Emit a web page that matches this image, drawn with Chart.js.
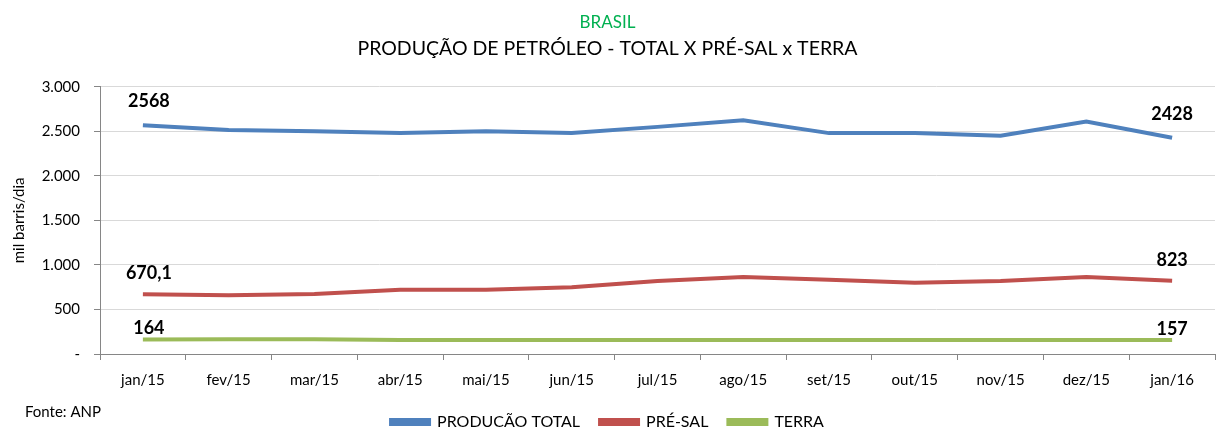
<!DOCTYPE html>
<html>
<head>
<meta charset="utf-8">
<script src="https://cdn.jsdelivr.net/npm/chart.js@4/dist/chart.umd.min.js"></script>
<style>
  html, body { margin: 0; padding: 0; background: #fff; }
</style>
</head>
<body>
<canvas id="grafico" width="1217" height="427"></canvas>
<script>
const meses = ['jan/15', 'fev/15', 'mar/15', 'abr/15', 'mai/15', 'jun/15', 'jul/15',
  'ago/15', 'set/15', 'out/15', 'nov/15', 'dez/15', 'jan/16'];
const producaoTotal = [2568, 2515, 2500, 2480, 2500, 2480, 2550, 2625, 2480, 2480, 2450, 2610, 2428];
const preSal = [670.1, 660, 675, 720, 720, 750, 820, 865, 835, 800, 820, 865, 823];
const terra = [164, 166, 165, 157, 157, 156, 157, 157, 157, 156, 156, 156, 157];
const rotulosPontas = [['2568', '2428'], ['670,1', '823'], ['164', '157']];

const fonte = 'Lato, "Open Sans", sans-serif';

// rotulos do primeiro e ultimo ponto + "Fonte: ANP"
const rotulosPlugin = {
  id: 'rotulos',
  afterDatasetsDraw(chart) {
    const ctx = chart.ctx;
    const gaps = [15, 12, 2];
    ctx.save();
    ctx.font = 'bold 18px ' + fonte;
    ctx.fillStyle = '#000';
    ctx.textAlign = 'center';
    ctx.textBaseline = 'bottom';
    chart.data.datasets.forEach((ds, i) => {
      const pts = chart.getDatasetMeta(i).data;
      const first = pts[0], last = pts[pts.length - 1];
      ctx.fillText(rotulosPontas[i][0], first.x + 6, first.y - gaps[i]);
      ctx.fillText(rotulosPontas[i][1], last.x, last.y - gaps[i]);
    });
    ctx.font = '15px ' + fonte;
    ctx.textAlign = 'left';
    ctx.textBaseline = 'middle';
    ctx.fillText('Fonte: ANP', 25, 412);
    ctx.restore();
  }
};

new Chart(document.getElementById('grafico'), {
  type: 'line',
  data: {
    labels: meses,
    datasets: [
      { label: 'PRODUCÃO TOTAL', data: producaoTotal, borderColor: '#4f81bd', backgroundColor: '#4f81bd' },
      { label: 'PRÉ-SAL', data: preSal, borderColor: '#c0504d', backgroundColor: '#c0504d' },
      { label: 'TERRA', data: terra, borderColor: '#9bbb59', backgroundColor: '#9bbb59' }
    ]
  },
  options: {
    responsive: false,
    animation: false,
    layout: { padding: { left: 0, right: 2, top: 0, bottom: -13 } },
    elements: {
      line: { borderWidth: 4, tension: 0 },
      point: { radius: 0 }
    },
    plugins: {
      title: {
        display: true,
        text: 'BRASIL',
        color: '#00b050',
        font: { family: fonte, size: 17, weight: 'normal' },
        padding: { top: 12, bottom: 5 }
      },
      subtitle: {
        display: true,
        text: 'PRODUÇÃO DE PETRÓLEO - TOTAL X PRÉ-SAL x TERRA',
        color: '#000',
        font: { family: fonte, size: 19.5 },
        padding: { top: 0, bottom: 26 }
      },
      legend: {
        position: 'bottom',
        labels: {
          color: '#000',
          font: { family: fonte, size: 16 },
          boxWidth: 38,
          boxHeight: 4,
          padding: 20
        }
      },
      tooltip: { enabled: false }
    },
    scales: {
      x: {
        offset: true,
        afterFit(scale) { scale.height = 40; },
        grid: {
          display: true,
          offset: true,
          drawOnChartArea: false,
          drawTicks: true,
          tickLength: 6,
          color: '#868686'
        },
        border: { color: '#868686' },
        ticks: { color: '#000', font: { family: fonte, size: 15 }, padding: 11 }
      },
      y: {
        min: 0,
        max: 3000,
        afterFit(scale) { scale.width = 100; },
        grid: {
          color: '#d9d9d9',
          tickLength: 6,
          tickColor: '#868686'
        },
        border: { color: '#868686' },
        ticks: {
          stepSize: 500,
          color: '#000',
          font: { family: fonte, size: 15 },
          padding: 14,
          callback: v => v === 0 ? '-' : v.toLocaleString('pt-BR')
        },
        title: {
          display: true,
          text: 'mil barris/dia',
          color: '#000',
          font: { family: fonte, size: 15 },
          padding: { top: 10, bottom: 0 }
        }
      }
    }
  },
  plugins: [rotulosPlugin]
});
</script>
</body>
</html>
